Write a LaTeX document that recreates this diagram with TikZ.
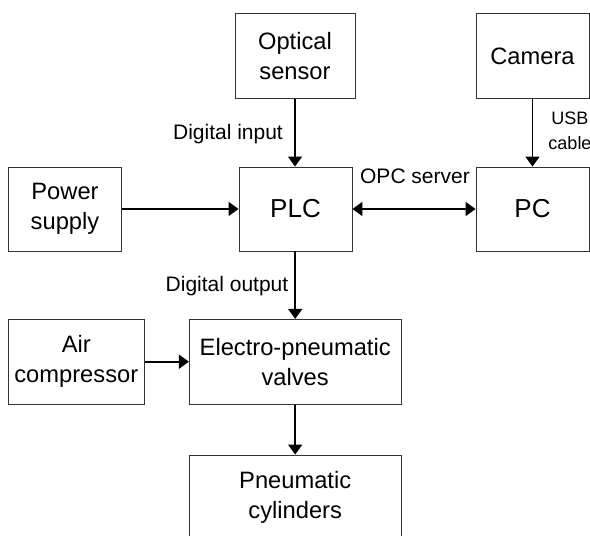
\documentclass[tikz,border=0pt]{standalone}
\usepackage{fontspec}
\setmainfont{Liberation Sans}
\usetikzlibrary{arrows.meta}
\begin{document}
\begin{tikzpicture}[x=1pt,y=-1pt,
  box/.style={draw=black!80, line width=0.9pt, align=center, inner sep=0pt,
    font=\fontsize{23.7}{30}\selectfont},
  bigbox/.style={box, font=\fontsize{26}{30}\selectfont},
  lbl/.style={inner sep=0pt, font=\fontsize{21}{24}\selectfont},
  conn/.style={line width=1.8pt, -{Triangle[width=14pt,length=10pt]}},
  biconn/.style={line width=1.8pt, {Triangle[width=14pt,length=10pt]}-{Triangle[width=14pt,length=10pt]}}]
\useasboundingbox (0,0) rectangle (590,536);
\node[box, minimum width=120pt, minimum height=85pt] (opt) at (295,56) {Optical\\sensor};
\node[box, minimum width=113pt, minimum height=85pt] (cam) at (532.5,56) {Camera};
\node[box, minimum width=113pt, minimum height=84pt] (ps) at (65,209) {Power\\supply};
\node[bigbox, minimum width=113pt, minimum height=84pt] (plc) at (295.5,209) {PLC};
\node[bigbox, minimum width=113pt, minimum height=84pt] (pc) at (532.5,209) {PC};
\node[box, minimum width=136pt, minimum height=84.7pt] (air) at (76.3,361.7) {Air\\compressor};
\node[box, minimum width=211.7pt, minimum height=84.7pt] (val) at (295.2,361.7) {Electro-pneumatic\\valves};
\node[box, minimum width=211.7pt, minimum height=85pt] (cyl) at (295.2,497.5) {Pneumatic\\cylinders};
\draw[conn] (opt.south) -- (opt.south |- plc.north);
\draw[conn] (cam.south) -- (cam.south |- pc.north);
\draw[conn] (ps.east) -- (ps.east -| plc.west);
\draw[biconn] (plc.east) -- (plc.east -| pc.west);
\draw[conn] (plc.south -| val.north) -- (val.north);
\draw[conn] (air.east) -- (air.east -| val.west);
\draw[conn] (val.south) -- (cyl.north);
\node[lbl, anchor=base] (din) at (228,139.3) {Digital input};
\node[lbl, anchor=base] (opc) at (415,183.3) {OPC server};
\node[lbl, anchor=base] (dout) at (227,291.7) {Digital output};
\node[inner sep=0pt, align=center, font=\fontsize{18}{25.3}\selectfont] (usb) at (570,131) {USB\\cable};
\end{tikzpicture}
\end{document}
